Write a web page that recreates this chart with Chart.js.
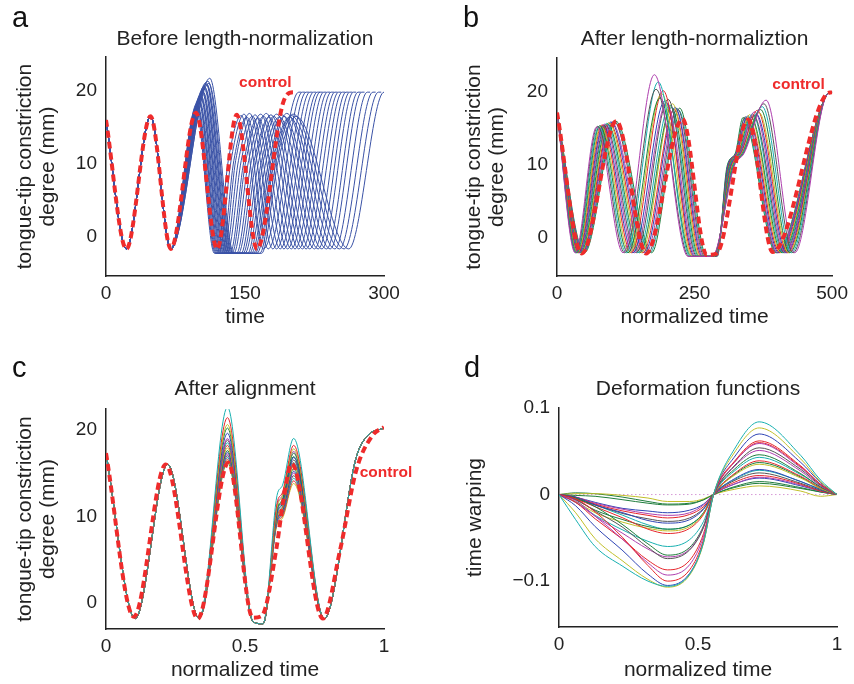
<!DOCTYPE html>
<html>
<head>
<meta charset="utf-8">
<script src="https://cdn.jsdelivr.net/npm/chart.js@4.4.1/dist/chart.umd.min.js"></script>
<style>
  body { margin: 0; background: #fff; }
  #wrap { position: relative; width: 854px; height: 684px; font-family: "Liberation Sans", Arial, sans-serif; }
  .panel { position: absolute; width: 427px; height: 342px; }
  .tag { position: absolute; font-size: 29px; line-height: 29px; color: #111; }
</style>
</head>
<body>
<div id="wrap">
  <div class="panel" style="left:0;top:0"><canvas id="chartA" width="427" height="342"></canvas></div>
  <div class="panel" style="left:427px;top:0"><canvas id="chartB" width="427" height="342"></canvas></div>
  <div class="panel" style="left:0;top:342px"><canvas id="chartC" width="427" height="342"></canvas></div>
  <div class="panel" style="left:427px;top:342px"><canvas id="chartD" width="427" height="342"></canvas></div>
  <div class="tag" style="left:12px;top:3px">a</div>
  <div class="tag" style="left:463px;top:3px">b</div>
  <div class="tag" style="left:12px;top:353px">c</div>
  <div class="tag" style="left:464px;top:353px">d</div>
</div>
<script>
// ---- panel a : raw trajectories (time) ----
const aOnsetT = [0, 22, 48, 70];
const aOnsetV = [16, -1.6, 16.5, -1.6];
const aPeakT = [97, 98, 98, 99, 100, 100, 101, 102, 102, 103, 104, 104, 105, 106, 106, 107, 108, 108, 109, 110, 111, 112];
const aPeakV = [17.6, 17.9, 18.2, 18.0, 18.5, 18.8, 18.6, 19.1, 19.4, 19.2, 19.7, 20.0, 19.8, 20.3, 20.6, 20.4, 20.9, 21.1, 20.8, 21.3, 21.0, 21.7];
const aDipIn = [117, 118, 119, 120, 121, 122, 123, 124, 125, 126, 127, 128, 129, 130, 131, 132, 133, 134, 135, 136, 137, 138];
const aDipOut = [120, 122, 125, 127, 129, 131, 134, 136, 138, 141, 143, 146, 148, 150, 153, 155, 157, 159, 161, 163, 166, 168];
const aShoulderT = [132, 135, 138, 140, 143, 146, 149, 151, 154, 157, 160, 162, 165, 168, 170, 173, 176, 178, 180, 182, 184, 186];
const aPeak2T = [146, 149, 152, 155, 158, 161, 164, 167, 170, 173, 176, 178, 181, 184, 187, 190, 192, 195, 198, 200, 202, 205];
const aPeak2V = [16.6, 16.8, 16.4, 16.9, 16.5, 16.7, 16.3, 16.8, 16.5, 16.9, 16.4, 16.7, 16.5, 16.8, 16.4, 16.7, 16.5, 16.9, 16.4, 16.6, 16.8, 16.5];
const aDip2T = [170, 175, 180, 184, 188, 192, 196, 200, 204, 208, 212, 216, 220, 225, 229, 233, 238, 242, 247, 252, 257, 262];
const aEndT = [208, 212, 216, 220, 224, 228, 231, 235, 239, 243, 247, 251, 255, 259, 263, 267, 272, 276, 282, 288, 294, 300];
const aTailT = [211, 215, 219, 223, 227, 231, 234, 238, 242, 246, 250, 254, 258, 262, 266, 270, 275, 279, 285, 291, 297, 303];
const aDipV = -2.2, aShoulderV = 10.5, aDip2V = -1.6, aEndV = 19.8;
const aCtrlT = [0, 22, 48, 70, 97, 120, 141, 163, 191, 202, 206];
const aCtrlV = [16, -1.6, 16.5, -1.6, 17.0, -1.6, 16.7, -1.6, 18.3, 19.8, 19.8];
const aXTicks = [0, 150, 300], aXLabels = ['0', '150', '300'];
const aYTicks = [0, 10, 20], aYLabels = ['0', '10', '20'];

// ---- panel b : length-normalized ----
const bDip1T = [33, 34, 35, 36, 37, 38, 39, 40, 41, 42, 43, 44, 45, 46, 47, 48, 49, 50];
const bPeak1T = [72, 74, 76, 78, 80, 82, 84, 86, 88, 90, 92, 94, 96, 98, 100, 103, 105, 107];
const bPeak1V = [15.2, 15.3, 15.2, 15.4, 15.3, 15.5, 15.4, 15.6, 15.5, 15.7, 15.6, 15.8, 15.7, 15.9, 15.8, 16.0, 15.9, 16.0];
const bDip2T = [120, 123, 126, 129, 132, 135, 138, 141, 144, 147, 150, 153, 156, 159, 162, 166, 169, 172];
const bPeak2T = [177, 180, 184, 187, 190, 193, 196, 199, 202, 205, 208, 210, 213, 215, 217, 219, 221, 223];
const bPeak2V = [22.4, 20.4, 21.4, 19.2, 19.8, 20.2, 18.8, 18.5, 19.0, 18.2, 17.9, 18.4, 17.6, 17.9, 17.4, 17.7, 17.5, 17.8];
const bDip3In = [238, 240, 242, 244, 246, 248, 250, 252, 254, 256, 258, 260, 262, 264, 266, 268, 270, 272];
const bDip3Out = [282, 283, 284, 284, 285, 285, 286, 286, 287, 287, 288, 288, 289, 289, 290, 290, 291, 291];
const bShoulder1T = [322, 321, 320, 319, 318, 317, 316, 316, 315, 314, 313, 313, 312, 311, 311, 310, 310, 309];
const bShoulder2T = [340, 339, 338, 337, 336, 335, 334, 333, 332, 331, 330, 329, 328, 327, 326, 325, 325, 324];
const bPeak3T = [380, 376, 373, 370, 367, 364, 362, 359, 357, 355, 352, 350, 348, 346, 344, 342, 340, 338];
const bPeak3V = [18.9, 18.4, 18.0, 17.6, 17.2, 17.5, 17.0, 17.3, 16.8, 17.0, 16.6, 16.9, 16.5, 16.7, 16.4, 16.6, 16.3, 16.5];
const bDip4T = [432, 429, 426, 423, 421, 419, 417, 415, 413, 411, 409, 407, 405, 403, 401, 400, 399, 398];
const bStartV = 17.1, bDipV = -2.1, bDip3V = -2.6, bShoulder1V = 9.8, bShoulder2V = 11.6, bNearEnd = [490, 19.6], bEnd = [500, 20];
const bColors = ['purple', 'gray', 'cyan', 'green', 'olive', 'red', 'blue'];
const bCtrlT = [0, 45, 108, 162, 228, 272, 290, 347, 392, 488, 500];
const bCtrlV = [17.2, -2.2, 16.0, -2.2, 16.3, -2.4, -2.2, 16.2, -2.0, 19.6, 20.0];
const bXTicks = [0, 250, 500], bXLabels = ['0', '250', '500'];
const bYTicks = [0, 10, 20], bYLabels = ['0', '10', '20'];

// ---- panel c : after alignment ----
const cX = [0, 0.105, 0.222, 0.335, 0.437, 0.53, 0.565, 0.615, 0.635, 0.675, 0.785, 0.9, 0.94, 1];
const cPeak2V = [22.6, 21.4, 20.6, 20.2, 19.6, 19.0, 18.8, 18.5, 18.2, 17.9, 17.6, 17.4, 17.2, 17.0, 16.8, 16.6, 16.4, 16.2];
const cShoulderAV = [12.4, 11.5, 11.0, 10.8, 10.5, 11.2, 10.3, 10.2, 10.0, 9.9, 9.8, 9.6, 9.5, 9.4, 9.3, 9.2, 9.0, 10.6];
const cShoulderBV = [13.6, 12.8, 12.4, 12.0, 11.7, 12.5, 11.5, 11.3, 11.1, 11.0, 10.8, 10.6, 10.5, 10.3, 10.2, 10.0, 9.8, 11.9];
const cPeak3V = [19.0, 18.2, 17.8, 17.3, 16.8, 17.5, 16.5, 16.2, 16.0, 15.8, 15.5, 15.2, 15.0, 14.7, 14.4, 14.1, 13.8, 16.9];
const cFixed = { start: 17.3, dip1: -1.8, peak1: 16.0, dip2: -1.8, dip3a: -2.2, dip3b: -2.4, dip4: -1.8, rise: 16.8, top: 19.3, end: 20.2 };
const cColors = ['cyan', 'red', 'olive', 'green', 'blue', 'purple', 'gray'];
const cCtrlX = [0, 0.1, 0.215, 0.33, 0.44, 0.528, 0.56, 0.614, 0.638, 0.668, 0.78, 0.842, 0.9, 0.96, 1];
const cCtrlV = [17.3, -1.6, 16.0, -1.8, 16.2, -1.7, -1.5, 6.5, 11.9, 16.1, -1.8, 6.1, 15.3, 19.4, 20.3];
const cXTicks = [0, 0.5, 1], cXLabels = ['0', '0.5', '1'];
const cYTicks = [0, 10, 20], cYLabels = ['0', '10', '20'];

// ---- panel d : deformation functions ----
const dX = [0, 0.06, 0.13, 0.23, 0.32, 0.39, 0.47, 0.52, 0.556, 0.63, 0.72, 0.87, 0.94, 1];
const dRows = [
  [0, -0.029, -0.060, -0.083, -0.100, -0.106, -0.092, -0.055, 0, 0.052, 0.084, 0.045, 0.017, 0],
  [0, -0.021, -0.051, -0.077, -0.098, -0.107, -0.093, -0.056, 0, 0.048, 0.077, 0.041, 0.015, 0],
  [0, -0.013, -0.037, -0.065, -0.092, -0.105, -0.091, -0.055, 0, 0.043, 0.070, 0.037, 0.014, 0],
  [0, -0.005, -0.020, -0.050, -0.082, -0.100, -0.087, -0.052, 0, 0.038, 0.062, 0.033, 0.012, 0],
  [0, -0.007, -0.025, -0.052, -0.079, -0.093, -0.081, -0.048, 0, 0.037, 0.059, 0.031, 0.012, 0],
  [0, -0.009, -0.028, -0.052, -0.076, -0.087, -0.076, -0.045, 0, 0.037, 0.060, 0.032, 0.012, 0],
  [0, -0.006, -0.019, -0.038, -0.061, -0.074, -0.064, -0.038, 0, 0.033, 0.054, 0.029, 0.011, 0],
  [0, -0.009, -0.025, -0.045, -0.063, -0.072, -0.063, -0.037, 0, 0.032, 0.051, 0.027, 0.010, 0],
  [0, -0.004, -0.014, -0.035, -0.057, -0.070, -0.061, -0.036, 0, 0.029, 0.046, 0.024, 0.009, 0],
  [0, -0.009, -0.024, -0.041, -0.054, -0.060, -0.052, -0.031, 0, 0.027, 0.043, 0.023, 0.009, 0],
  [0, -0.005, -0.014, -0.027, -0.040, -0.045, -0.039, -0.023, 0, 0.024, 0.039, 0.021, 0.008, 0],
  [0, -0.008, -0.021, -0.032, -0.039, -0.042, -0.037, -0.022, 0, 0.022, 0.035, 0.019, 0.007, 0],
  [0, -0.006, -0.018, -0.029, -0.037, -0.040, -0.035, -0.021, 0, 0.023, 0.037, 0.020, 0.007, 0],
  [0, -0.003, -0.012, -0.021, -0.030, -0.033, -0.029, -0.017, 0, 0.018, 0.029, 0.015, 0.006, 0],
  [0, -0.005, -0.012, -0.022, -0.028, -0.031, -0.027, -0.016, 0, 0.016, 0.025, 0.013, 0.005, 0],
  [0, -0.003, -0.011, -0.019, -0.024, -0.027, -0.023, -0.014, 0, 0.014, 0.022, 0.012, 0.004, 0],
  [0, -0.003, -0.010, -0.017, -0.022, -0.024, -0.021, -0.012, 0, 0.012, 0.020, 0.011, 0.004, 0],
  [0, -0.003, -0.009, -0.016, -0.019, -0.021, -0.018, -0.011, 0, 0.012, 0.019, 0.010, 0.004, 0],
  [0, -0.001, -0.002, -0.006, -0.010, -0.012, -0.011, -0.006, 0, 0.009, 0.015, 0.008, 0.003, 0],
  [0, 0.001, 0.001, -0.001, -0.004, -0.008, -0.008, -0.005, 0, 0.006, 0.010, 0.004, -0.002, 0],
  [0, 0.002, 0.001, -0.003, -0.008, -0.011, -0.010, -0.006, 0, 0.008, 0.013, 0.007, 0.003, 0],
  [0, -0.004, -0.012, -0.024, -0.035, -0.040, -0.035, -0.021, 0, 0.017, 0.028, 0.015, 0.006, 0]
];
const dColors = ['cyan', 'olive', 'blue', 'red', 'purple', 'red', 'gray', 'purple', 'green', 'cyan', 'red',
  'olive', 'green', 'blue', 'gray', 'red', 'purple', 'blue', 'green', 'olive', 'green', 'cyan'];
const dZeroX = [0, 1], dZeroV = [0, 0];
const dXTicks = [0, 0.5, 1], dXLabels = ['0', '0.5', '1'];
const dYTicks = [-0.1, 0, 0.1], dYLabels = ['\u22120.1', '0', '0.1'];

// ---- styling ----
const FONT = '"Liberation Sans", Arial, sans-serif';
const INK = '#222';
const A_BLUE = '#3a52a6';
const CONTROL_RED = '#ef2b2b';
const palette = {
  blue: '#2f45b5', green: '#1f7d3c', red: '#e6262c', cyan: '#18b0b0',
  purple: '#ae3fae', olive: '#c2bf2a', gray: '#555555'
};

function curve(xs, ys) { return xs.map((x, k) => ({ x: x, y: ys[k] })); }

function lineSet(points, color, extra) {
  return Object.assign({
    data: points, borderColor: color, borderWidth: 1, pointRadius: 0,
    fill: false, cubicInterpolationMode: 'monotone'
  }, extra || {});
}

function controlSet(points) {
  return lineSet(points, CONTROL_RED, { borderWidth: 4, borderDash: [7, 4], order: -1 });
}

function xAxis(min, max, ticks, labels, title, titlePad, height) {
  return {
    type: 'linear', min: min, max: max,
    grid: { display: false, drawTicks: false },
    border: { display: true, color: INK, width: 1.5 },
    afterBuildTicks: s => { s.ticks = ticks.map(v => ({ value: v })); },
    ticks: { padding: 6, color: INK, autoSkip: false, maxRotation: 0,
      font: { family: FONT, size: 19 }, callback: (v, i) => labels[i] },
    title: { display: true, text: title, color: INK,
      font: { family: FONT, size: 21, lineHeight: 1.1 }, padding: { top: 0, bottom: titlePad } },
    afterFit: s => { s.height = height; }
  };
}

function yAxis(min, max, ticks, labels, title, titlePad, width) {
  return {
    type: 'linear', min: min, max: max,
    grid: { display: false, drawTicks: false },
    border: { display: true, color: INK, width: 1.5 },
    afterBuildTicks: s => { s.ticks = ticks.map(v => ({ value: v })); },
    ticks: { padding: 9, color: INK, autoSkip: false,
      font: { family: FONT, size: 19 }, callback: (v, i) => labels[i] },
    title: { display: true, text: title, color: INK,
      font: { family: FONT, size: 21, lineHeight: 1.1 }, padding: { top: titlePad, bottom: 0 } },
    afterFit: s => { s.width = width; }
  };
}

// "control" label anchored in data coordinates
const textLabels = {
  id: 'textLabels',
  afterDatasetsDraw(chart, args, opts) {
    const { ctx, scales } = chart;
    (opts.items || []).forEach(it => {
      ctx.save();
      ctx.font = 'bold 15.5px ' + FONT;
      ctx.fillStyle = CONTROL_RED;
      ctx.textAlign = 'center';
      ctx.textBaseline = 'middle';
      ctx.fillText(it.text, scales.x.getPixelForValue(it.x), scales.y.getPixelForValue(it.y));
      ctx.restore();
    });
  }
};

function makeChart(id, datasets, cfg) {
  return new Chart(document.getElementById(id), {
    type: 'line',
    data: { datasets: datasets },
    plugins: [textLabels],
    options: {
      responsive: false, animation: false, devicePixelRatio: 1,
      layout: { padding: { left: 0, top: 0, right: cfg.right, bottom: 0 } },
      plugins: {
        legend: { display: false },
        tooltip: { enabled: false },
        title: { display: true, text: cfg.title, fullSize: false, color: INK,
          font: { family: FONT, size: 21, weight: 'normal', lineHeight: 1.2 },
          padding: { top: cfg.titleTop, bottom: cfg.titleBottom } },
        textLabels: { items: cfg.labels || [] }
      },
      scales: { x: cfg.x, y: cfg.y }
    }
  });
}

// panel a
const aSets = aPeakT.map((_, i) => lineSet([
  ...curve(aOnsetT, aOnsetV),
  { x: aPeakT[i], y: aPeakV[i] },
  { x: aDipIn[i], y: aDipV }, { x: aDipOut[i], y: aDipV },
  { x: aShoulderT[i], y: aShoulderV },
  { x: aPeak2T[i], y: aPeak2V[i] },
  { x: aDip2T[i], y: aDip2V },
  { x: aEndT[i], y: aEndV }, { x: aTailT[i], y: aEndV }
], A_BLUE));
aSets.push(controlSet(curve(aCtrlT, aCtrlV)));
makeChart('chartA', aSets, {
  title: 'Before length-normalization', titleTop: 26.4, titleBottom: 5.4, right: 43,
  x: xAxis(0, 300, aXTicks, aXLabels, 'time', 13.5, 66),
  y: yAxis(-5.3, 24.6, aYTicks, aYLabels, ['tongue-tip constriction', 'degree (mm)'], 13.5, 106),
  labels: [{ text: 'control', x: 172, y: 21.1 }]
});

// panel b
const bSets = bDip1T.map((_, i) => lineSet([
  { x: 0, y: bStartV },
  { x: bDip1T[i], y: bDipV },
  { x: bPeak1T[i], y: bPeak1V[i] },
  { x: bDip2T[i], y: bDipV },
  { x: bPeak2T[i], y: bPeak2V[i] },
  { x: bDip3In[i], y: bDip3V }, { x: bDip3Out[i], y: bDip3V },
  { x: bShoulder1T[i], y: bShoulder1V }, { x: bShoulder2T[i], y: bShoulder2V },
  { x: bPeak3T[i], y: bPeak3V[i] },
  { x: bDip4T[i], y: bDipV },
  { x: bNearEnd[0], y: bNearEnd[1] }, { x: bEnd[0], y: bEnd[1] }
], palette[bColors[i % bColors.length]]));
bSets.push(controlSet(curve(bCtrlT, bCtrlV)));
makeChart('chartB', bSets, {
  title: 'After length-normaliztion', titleTop: 26.4, titleBottom: 6.4, right: 19,
  x: xAxis(0, 500, bXTicks, bXLabels, 'normalized time', 13.5, 66),
  y: yAxis(-5.3, 24.7, bYTicks, bYLabels, ['tongue-tip constriction', 'degree (mm)'], 35.5, 130),
  labels: [{ text: 'control', x: 439, y: 21 }]
});

// panel c
const cSets = cPeak2V.map((_, i) => lineSet(curve(cX, [
  cFixed.start, cFixed.dip1, cFixed.peak1, cFixed.dip2, cPeak2V[i], cFixed.dip3a, cFixed.dip3b,
  cShoulderAV[i], cShoulderBV[i], cPeak3V[i], cFixed.dip4, cFixed.rise, cFixed.top, cFixed.end
]), palette[cColors[i % cColors.length]]));
cSets.push(controlSet(curve(cCtrlX, cCtrlV)));
makeChart('chartC', cSets, {
  title: 'After alignment', titleTop: 34.4, titleBottom: 7.4, right: 43,
  x: xAxis(0, 1, cXTicks, cXLabels, 'normalized time', 2.5, 55),
  y: yAxis(-3, 22.4, cYTicks, cYLabels, ['tongue-tip constriction', 'degree (mm)'], 13.5, 106),
  labels: [{ text: 'control', x: 1.007, y: 15.1 }]
});

// panel d
const dSets = dRows.map((row, i) => lineSet(curve(dX, row), palette[dColors[i]]));
dSets.push(lineSet(curve(dZeroX, dZeroV), '#d79ad7', { borderDash: [1.5, 2.5], order: 5 }));
makeChart('chartD', dSets, {
  title: 'Deformation functions', titleTop: 34.4, titleBottom: 6.4, right: 17,
  x: xAxis(0, 1, dXTicks, dXLabels, 'normalized time', 2.5, 57),
  y: yAxis(-0.153, 0.1, dYTicks, dYLabels, 'time warping', 36.5, 132)
});
</script>
</body>
</html>
